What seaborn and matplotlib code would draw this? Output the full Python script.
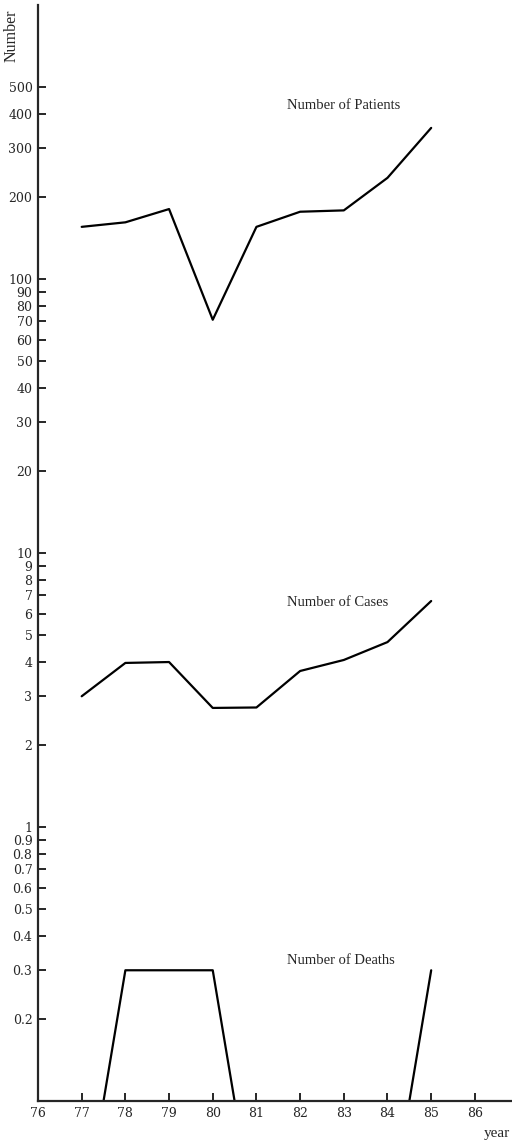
import numpy as np
import pandas as pd
import seaborn as sns
import matplotlib.pyplot as plt

years = [77, 78, 79, 80, 81, 82, 83, 84, 85]
patients = [155, 161, 180, 71, 155, 176, 178, 234, 356]
cases = [3.0, 3.97, 4.0, 2.72, 2.73, 3.71, 4.07, 4.73, 6.68]
deaths = [0, 0.3, 0.3, 0.3, 0, 0, 0, 0, 0.3]

ytick_values = [0.2, 0.3, 0.4, 0.5, 0.6, 0.7, 0.8, 0.9, 1, 2, 3, 4, 5, 6, 7, 8, 9,
                10, 20, 30, 40, 50, 60, 70, 80, 90, 100, 200, 300, 400, 500]
ytick_labels = ['0.2', '0.3', '0.4', '0.5', '0.6', '0.7', '0.8', '0.9', '1',
                '2', '3', '4', '5', '6', '7', '8', '9',
                '10', '20', '30', '40', '50', '60', '70', '80', '90',
                '100', '200', '300', '400', '500']
xtick_values = list(range(76, 87))

y_floor = 0.1

sns.set_style('ticks')
plt.rcParams['font.family'] = ['Liberation Serif', 'DejaVu Serif']

fig = plt.figure(figsize=(5.12, 11.44), dpi=100)
ax = fig.add_axes([38 / 512, 1 - 1101 / 1144, 1 - 38 / 512, 1096 / 1144])

df = pd.DataFrame({'year': years, 'patients': patients, 'cases': cases})
sns.lineplot(data=df, x='year', y='patients', color='black', lw=1.6, ax=ax)
sns.lineplot(data=df, x='year', y='cases', color='black', lw=1.6, ax=ax)

# zero deaths can't sit on a log axis: drop to the floor half way between years
rows = []
seg = 0
for i, (yr, v) in enumerate(zip(years, deaths)):
    if v <= 0:
        continue
    if i > 0 and deaths[i - 1] <= 0:
        rows.append((seg, (years[i - 1] + yr) / 2, y_floor))
    rows.append((seg, yr, v))
    if i < len(years) - 1 and deaths[i + 1] <= 0:
        rows.append((seg, (yr + years[i + 1]) / 2, y_floor))
        seg += 1
ddf = pd.DataFrame(rows, columns=['seg', 'year', 'deaths'])
sns.lineplot(data=ddf, x='year', y='deaths', units='seg', estimator=None,
             color='black', lw=1.6, ax=ax)

ax.set_yscale('log')
ax.set_ylim(y_floor, 1000)
ax.set_xlim(76, 86.85)
ax.set_yticks(ytick_values)
ax.set_yticklabels(ytick_labels, family='DejaVu Serif')
ax.set_yticks([], minor=True)
ax.set_xticks(xtick_values)
ax.set_xticklabels([str(x) for x in xtick_values], family='DejaVu Serif')
ax.tick_params(axis='both', direction='in', length=6, width=1.4, labelsize=9)
ax.tick_params(axis='y', pad=4)
ax.tick_params(axis='x', pad=4)
ax.set_xlabel('')
ax.set_ylabel('')
sns.despine(ax=ax)
for s in ['left', 'bottom']:
    ax.spines[s].set_linewidth(1.6)

ax.text(81.7, 431, 'Number of Patients', fontsize=10.5, va='center')
ax.text(81.7, 6.6, 'Number of Cases', fontsize=10.5, va='center')
ax.text(81.7, 0.327, 'Number of Deaths', fontsize=10.5, va='center')

fig.text(12 / 512, 1 - 36 / 1144, 'Number', rotation=90, fontsize=11.5,
         ha='center', va='center')
fig.text(497 / 512, 1 - 1134 / 1144, 'year', fontsize=11, ha='center', va='center')

fig.savefig('out.png', dpi=100)
